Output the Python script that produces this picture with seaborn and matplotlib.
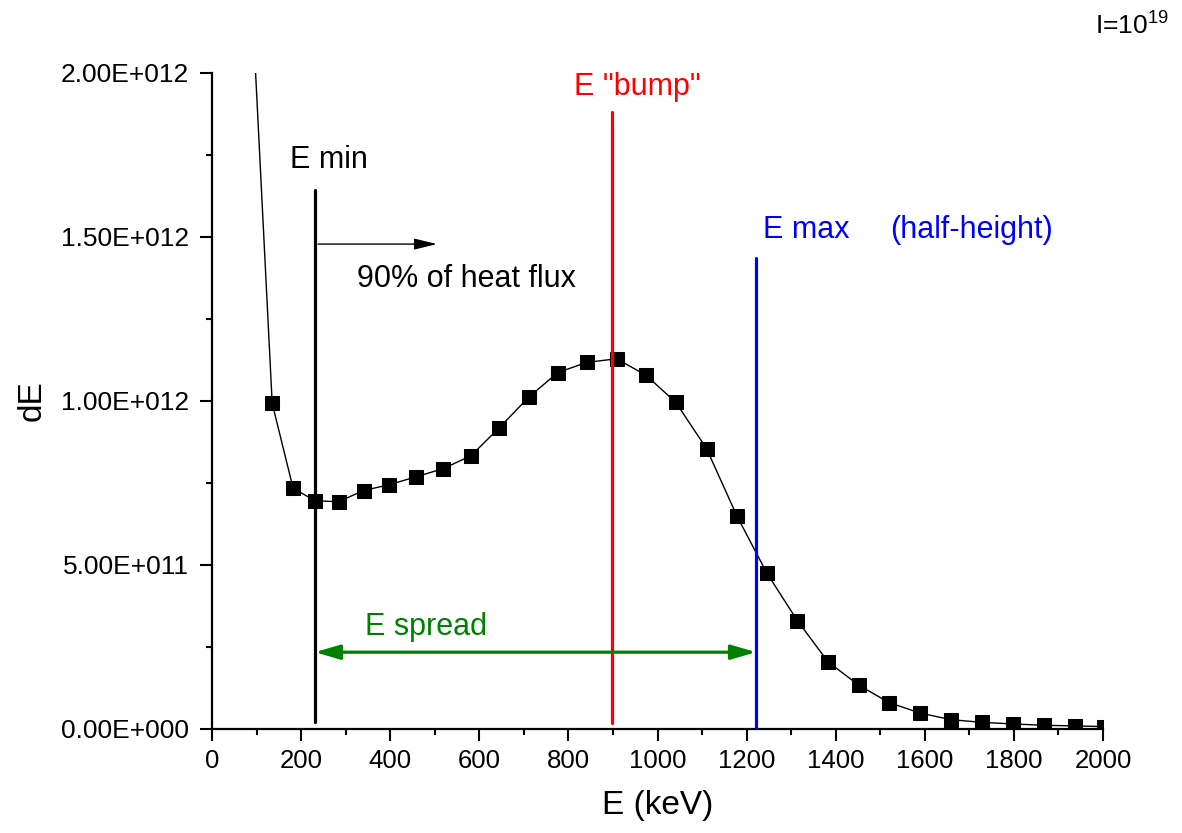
import numpy as np
import pandas as pd
import seaborn as sns
import matplotlib
matplotlib.use("Agg")
import matplotlib.pyplot as plt
from matplotlib.ticker import MultipleLocator, FixedLocator, FixedFormatter

# ---- data ----
energy_kev = [87, 135, 182, 231, 284, 340, 398, 458, 519, 581, 645, 711, 776,
              841, 908, 974, 1041, 1110, 1178, 1245, 1314, 1383, 1452, 1520,
              1590, 1659, 1728, 1797, 1867, 1936, 2003]
dE_values = [2.29e12, 0.992e12, 0.733e12, 0.695e12, 0.692e12, 0.726e12, 0.744e12,
             0.768e12, 0.793e12, 0.832e12, 0.918e12, 1.011e12, 1.086e12,
             1.117e12, 1.128e12, 1.078e12, 0.995e12, 0.854e12, 0.649e12,
             0.475e12, 0.329e12, 0.203e12, 0.132e12, 0.079e12, 0.047e12,
             0.027e12, 0.019e12, 0.014e12, 0.010e12, 0.008e12, 0.006e12]

e_min = 231
e_bump = 898
e_max = 1221
e_min_top = 1.643e12
e_bump_top = 1.88e12
e_max_top = 1.436e12
spread_level = 0.233e12
flux_arrow = [238, 505]
flux_level = 1.478e12

y_ticks = [0, 5e11, 1e12, 1.5e12, 2e12]
y_tick_labels = ["0.00E+000", "5.00E+011", "1.00E+012", "1.50E+012", "2.00E+012"]
x_ticks = list(range(0, 2001, 200))

df = pd.DataFrame({"E": energy_kev, "dE": dE_values})

sns.set_style("ticks")
plt.rcParams["font.family"] = ["Liberation Sans", "DejaVu Sans"]
plt.rcParams["mathtext.fontset"] = "custom"
plt.rcParams["mathtext.rm"] = "Liberation Sans"
for k in ["text.color", "axes.labelcolor", "xtick.color", "ytick.color", "axes.edgecolor"]:
    plt.rcParams[k] = "black"

fig = plt.figure(figsize=(11.82, 8.33), dpi=100)
ax = fig.add_axes([0.1794, 0.1254, 0.9332 - 0.1794, 0.9124 - 0.1254])

sns.lineplot(data=df, x="E", y="dE", ax=ax, color="black", linewidth=1.0,
             marker="s", markersize=10, markeredgecolor="black",
             markerfacecolor="black", estimator=None, sort=False, zorder=3)

ax.set_xlim(0, 2000)
ax.set_ylim(0, 2e12)

# vertical markers
ax.plot([e_min, e_min], [0.02e12, e_min_top], color="black", lw=2.3, zorder=4)
ax.plot([e_bump, e_bump], [0.016e12, e_bump_top], color="#ff0000", lw=2.3, zorder=4)
ax.plot([e_max, e_max], [0, e_max_top], color="#0000ff", lw=2.3, zorder=4)

# arrows
ax.annotate("", xy=(e_max, spread_level), xytext=(e_min, spread_level),
            arrowprops=dict(arrowstyle="<|-|>,head_length=0.75,head_width=0.22",
                            color="#008000", lw=2.3, mutation_scale=20,
                            shrinkA=0, shrinkB=0), zorder=5)
ax.annotate("", xy=(flux_arrow[1], flux_level), xytext=(flux_arrow[0], flux_level),
            arrowprops=dict(arrowstyle="-|>,head_length=0.7,head_width=0.17",
                            color="black", lw=1.0, mutation_scale=20,
                            shrinkA=0, shrinkB=0), zorder=5)

# texts
tfs = 22
ax.text(175, 1.735e12, "E min", fontsize=tfs, ha="left", va="center", color="black")
ax.text(325, 1.371e12, "90% of heat flux", fontsize=tfs, ha="left", va="center", color="black")
ax.text(812, 1.956e12, 'E "bump"', fontsize=tfs, ha="left", va="center", color="#ff0000")
ax.text(1237, 1.521e12, "E max", fontsize=tfs, ha="left", va="center", color="#0000ff")
ax.text(1522, 1.521e12, "(half-height)", fontsize=tfs, ha="left", va="center", color="#0000ff")
ax.text(343, 0.31e12, "E spread", fontsize=tfs, ha="left", va="center", color="#008000")
fig.text(0.926, 0.97, r"I=10$^{\mathregular{19}}$", fontsize=19, ha="left", va="center")

# axes styling
sns.despine(ax=ax)
for s in ["left", "bottom"]:
    ax.spines[s].set_linewidth(1.6)
    ax.spines[s].set_color("black")

ax.xaxis.set_major_locator(FixedLocator(x_ticks))
ax.xaxis.set_minor_locator(MultipleLocator(100))
ax.yaxis.set_major_locator(FixedLocator(y_ticks))
ax.yaxis.set_major_formatter(FixedFormatter(y_tick_labels))
ax.yaxis.set_minor_locator(MultipleLocator(2.5e11))
ax.tick_params(axis="both", which="major", direction="out", length=8.5, width=1.5,
               color="black", labelcolor="black")
ax.tick_params(axis="both", which="minor", direction="out", length=4.5, width=1.5,
               color="black")
ax.tick_params(axis="x", which="major", labelsize=18.5, pad=6)
ax.tick_params(axis="y", which="major", labelsize=19, pad=8)

ax.set_xlabel("E (keV)", fontsize=24, color="black")
ax.set_ylabel("dE", fontsize=24, color="black")
ax.xaxis.set_label_coords(0.5, -0.093)
ax.yaxis.set_label_coords(-0.185, 0.5)

fig.savefig("out.png", dpi=100)
